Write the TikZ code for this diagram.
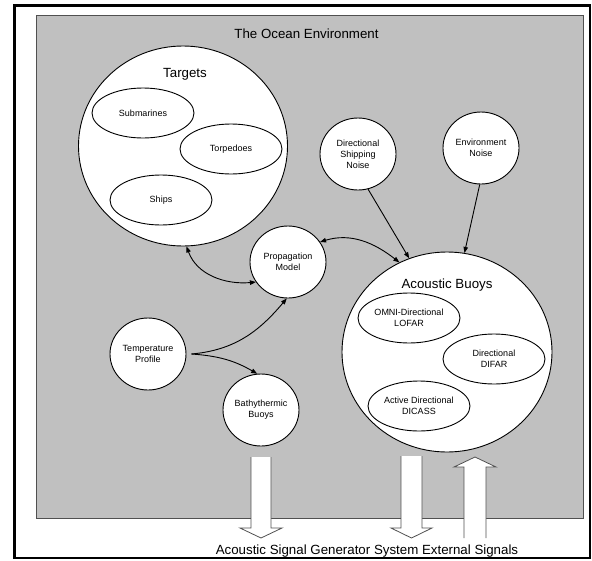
\documentclass[tikz,border=0pt]{standalone}
\usepackage{fontspec}
\setmainfont{Liberation Sans}
\usetikzlibrary{shapes.geometric,arrows.meta}
\definecolor{ocean}{HTML}{C0C0C0}
\definecolor{rim}{HTML}{505050}
\begin{document}
\begin{tikzpicture}[x=1pt,y=-1pt,
  >={Triangle[length=6pt,width=4.5pt]},
  big/.style={font=\fontsize{13.3}{16}\selectfont, inner sep=0pt},
  region/.style={draw, line width=0.9pt, fill=white, ellipse, inner sep=0pt},
  sub/.style={draw, line width=0.9pt, fill=white, ellipse, inner sep=0pt,
    minimum width=102pt, minimum height=50pt, align=center,
    font=\fontsize{9}{11}\selectfont},
  topic/.style={draw, line width=0.9pt, fill=white, ellipse, inner sep=0pt,
    minimum width=76pt, minimum height=72pt, align=center,
    font=\fontsize{9}{11}\selectfont},
  conn/.style={line width=0.9pt},
  blockarrow/.style={line width=0.8pt, draw=rim},
]
\useasboundingbox (0,0) rectangle (592,560);
% frame and ocean area
\draw[line width=2.5pt] (14.5,5.5) rectangle (590,558);
\node[draw=rim, line width=0.9pt, fill=ocean, anchor=north west, inner sep=0pt,
  minimum width=547pt, minimum height=503pt] (ocean) at (36,15) {};
\node[big, anchor=base] (oceanLabel) at (306.5,38.5) {The Ocean Environment};

% targets
\node[region, minimum width=209pt, minimum height=200pt] (targets) at (183,146) {};
\node[big, anchor=base] (targetsLabel) at (185,77.5) {Targets};
\node[sub] (submarines) at (143,113) {Submarines};
\node[sub] (torpedoes) at (231,149) {Torpedoes};
\node[sub] (ships) at (161,200) {Ships};

% single topics
\node[topic] (dsn) at (358,154) {Directional\\Shipping\\Noise};
\node[topic] (en) at (481,148) {Environment\\Noise};
\node[topic] (pm) at (288,262) {Propagation\\Model};
\node[topic] (tp) at (148,354) {Temperature\\Profile};
\node[topic] (bb) at (261,410) {Bathythermic\\Buoys};

% acoustic buoys
\node[region, minimum width=210pt, minimum height=200pt] (ab) at (447,352) {};
\node[big, anchor=base] (abLabel) at (447,288.5) {Acoustic Buoys};
\node[sub] (lofar) at (409,318) {OMNI-Directional\\LOFAR};
\node[sub] (difar) at (494,359) {Directional\\DIFAR};
\node[sub] (dicass) at (419,406) {Active Directional\\DICASS};

% connectors
\draw[conn, <->] (targets.-88) to[out=-70, in=185] (pm.212);
\draw[conn, <->] (pm.32) to[out=17, in=142] (ab.118);
\draw[conn, ->] (dsn.-74) -- (ab.112);
\draw[conn, ->] (en.-92) -- (ab.80);
\coordinate (tpout) at ([xshift=5pt]tp.east);
\draw[conn, ->] (tpout) to[out=5, in=230] (pm.-92);
\draw[conn, ->] (tpout) to[out=-4, in=150] (bb.96);

% block arrows
\fill[white] (251,457) -- (251,528) -- (240,528) -- (261,538) -- (282,528) -- (271,528) -- (271,457) -- cycle;
\draw[blockarrow] (251,457) -- (251,528) -- (240,528) -- (261,538) -- (282,528) -- (271,528) -- (271,457);
\fill[white] (401,456) -- (401,528) -- (391,528) -- (411.5,538) -- (432,528) -- (422,528) -- (422,456) -- cycle;
\draw[blockarrow] (401,456) -- (401,528) -- (391,528) -- (411.5,538) -- (432,528) -- (422,528) -- (422,456);
\fill[white] (464,538) -- (464,467) -- (454,467) -- (475,457) -- (496,467) -- (486,467) -- (486,538) -- cycle;
\draw[blockarrow] (464,538) -- (464,467) -- (454,467) -- (475,457) -- (496,467) -- (486,467) -- (486,538);

\node[big, anchor=base] (extLabel) at (367,554) {Acoustic Signal Generator System External Signals};
\end{tikzpicture}
\end{document}
